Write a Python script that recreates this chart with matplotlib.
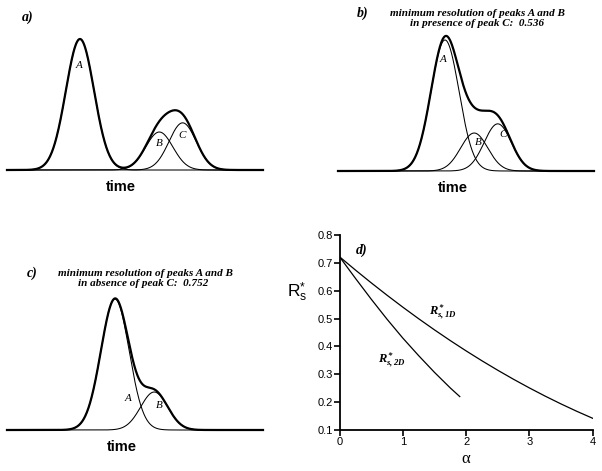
import numpy as np
import matplotlib
matplotlib.use('agg')
import matplotlib.pyplot as plt

plt.rcParams['mathtext.fontset'] = 'custom'
plt.rcParams['mathtext.it'] = 'Liberation Serif:italic:bold'
plt.rcParams['mathtext.rm'] = 'Liberation Serif:italic:bold'
plt.rcParams['mathtext.sf'] = 'Liberation Sans'

# peak heights (relative to A) and width, shared by panels a-c
height_A = 1.0
height_B = 0.29
height_C = 0.36
sigma_A = 0.55
sigma_BC = 0.53

# peak centres (time units) for each panel
centres_a = {'A': 2.85, 'B': 5.95, 'C': 6.86}
centres_b = {'A': 4.18, 'B': 5.32, 'C': 6.24}
centres_c = {'A': 4.22, 'B': 5.75}

# panel d: minimum resolution vs alpha
alpha_1d = [0, 0.25, 0.5, 0.75, 1.0, 1.25, 1.5, 1.75, 2.0, 2.25, 2.5, 2.75,
            3.0, 3.25, 3.5, 3.75, 4.0]
rs_1d = [0.722, 0.6745, 0.6285, 0.584, 0.541, 0.4995, 0.4595, 0.421, 0.384,
         0.3485, 0.3145, 0.282, 0.251, 0.2215, 0.1935, 0.167, 0.142]
alpha_2d = [0, 0.25, 0.5, 0.75, 1.0, 1.25, 1.5, 1.75, 1.9]
rs_2d = [0.722, 0.645, 0.57, 0.498, 0.43, 0.367, 0.307, 0.251, 0.22]
yticks_d = [0.1, 0.2, 0.3, 0.4, 0.5, 0.6, 0.7, 0.8]
xticks_d = [0, 1, 2, 3, 4]

W, H = 602, 471
fig = plt.figure(figsize=(W / 100, H / 100), dpi=100)


def rect(left, top, right, bottom):
    return [left / W, 1 - bottom / H, (right - left) / W, (bottom - top) / H]


def ftext(x, y, s, **kw):
    fig.text(x / W, 1 - y / H, s, **kw)


def gauss(t, c, h, s):
    return h * np.exp(-(t - c) ** 2 / (2 * s * s))


serif = 'Liberation Serif'
sans = 'Liberation Sans'
unit = 131.0  # px per height unit
ylo, yhi = -0.05, 1.1


def peak_panel(left, baseline, centres, labels):
    ax = fig.add_axes(rect(left, baseline - yhi * unit, left + 256,
                           baseline - ylo * unit))
    t = np.linspace(0, 10, 800)
    parts = []
    for name, c in centres.items():
        if name == 'A':
            y = gauss(t, c, height_A, sigma_A)
        elif name == 'B':
            y = gauss(t, c, height_B, sigma_BC)
        else:
            y = gauss(t, c, height_C, sigma_BC)
        parts.append(y)
        ax.plot(t, y, color='black', lw=0.75, clip_on=False)
    ax.plot(t, np.sum(parts, axis=0), color='black', lw=1.6, clip_on=False)
    for name, (tx, ty) in labels.items():
        ax.text(tx, ty, name, family=serif, style='italic', fontsize=8,
                ha='center', va='center')
    ax.set_xlim(0, 10)
    ax.set_ylim(ylo, yhi)
    ax.axis('off')
    return ax


peak_panel(7, 170, centres_a,
           {'A': (2.81, 0.8), 'B': (5.94, 0.2), 'C': (6.84, 0.267)})
peak_panel(338, 171, centres_b,
           {'A': (4.11, 0.85), 'B': (5.46, 0.216), 'C': (6.43, 0.275)})
peak_panel(7, 430, centres_c,
           {'A': (4.74, 0.242), 'B': (5.95, 0.185)})

time_kw = dict(family=sans, weight='bold', fontsize=10.5, ha='center', va='center')
ftext(121, 187, 'time', **time_kw)
ftext(453, 188, 'time', **time_kw)
ftext(122, 447, 'time', **time_kw)

lab_kw = dict(family=serif, weight='bold', style='italic', fontsize=10,
              ha='center', va='center')
ttl_kw = dict(family=serif, weight='bold', style='italic', fontsize=8,
              ha='center', va='center')
ftext(28, 17, 'a)', **lab_kw)
ftext(363, 13, 'b)', **lab_kw)
ftext(477, 13, 'minimum resolution of peaks A and B', **ttl_kw)
ftext(477, 23.5, 'in presence of peak C:  0.536', **ttl_kw)
ftext(32, 273, 'c)', **lab_kw)
ftext(145, 273, 'minimum resolution of peaks A and B', **ttl_kw)
ftext(143, 283.5, 'in absence of peak C:  0.752', **ttl_kw)

# panel d
axd = fig.add_axes(rect(339.5, 235, 592.7, 430))
axd.plot(alpha_1d, rs_1d, color='black', lw=0.9)
axd.plot(alpha_2d, rs_2d, color='black', lw=0.9)
axd.set_xlim(0, 4)
axd.set_ylim(0.1, 0.8)
axd.set_xticks(xticks_d)
axd.set_yticks(yticks_d)
axd.set_xticklabels([str(v) for v in xticks_d])
axd.set_yticklabels(['%.1f' % v for v in yticks_d])
for sp in ['top', 'right']:
    axd.spines[sp].set_visible(False)
for sp in ['left', 'bottom']:
    axd.spines[sp].set_linewidth(1.3)
axd.tick_params(direction='out', length=4, width=1.2, pad=1, labelsize=8)
for lbl in axd.get_xticklabels() + axd.get_yticklabels():
    lbl.set_family(sans)

ftext(362, 250, 'd)', **lab_kw)
ftext(443, 312, r'$R^{*}_{s,1D}$', fontsize=9, ha='center', va='center')
ftext(392, 360, r'$R^{*}_{s,2D}$', fontsize=9, ha='center', va='center')
ftext(297, 292, r'$\mathsf{R}_{\mathsf{s}}^{\mathsf{*}}$', fontsize=12.5,
      ha='center', va='center')
ftext(466, 459, 'α', family=serif, fontsize=12, ha='center', va='center')

fig.savefig('out.png', dpi=100)
